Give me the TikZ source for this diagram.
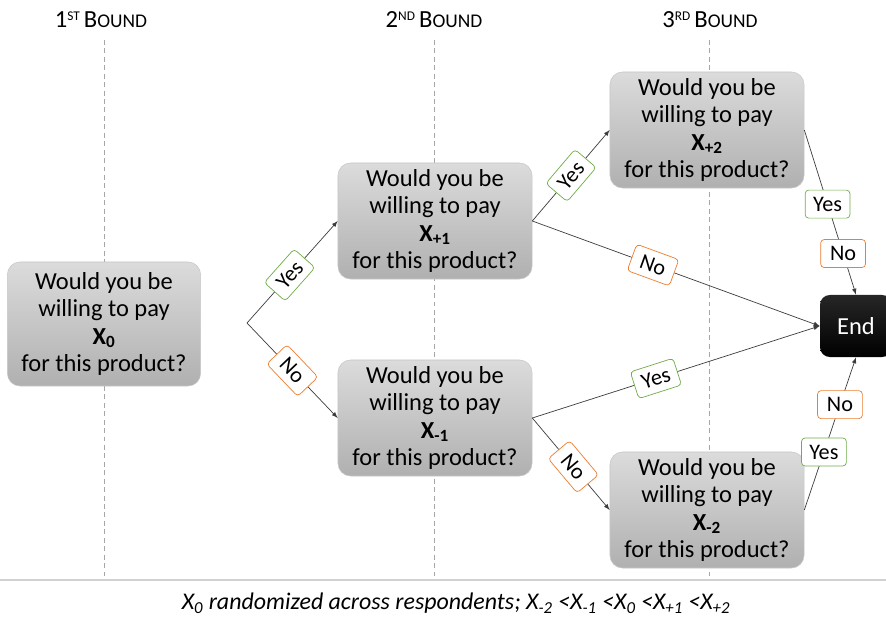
\documentclass[tikz,border=0pt]{standalone}
\usepackage{fontspec}
\setmainfont{Carlito}
\usepackage{xcolor}
\usepackage{tikz}
\usetikzlibrary{arrows,positioning,calc}
\definecolor{yesgreen}{RGB}{112,173,71}
\definecolor{noorange}{RGB}{237,125,49}
\definecolor{flowgray}{RGB}{60,60,60}
\tikzset{
	question/.style={rectangle, rounded corners=9pt, draw=black!22, top color=black!14, bottom color=black!31,
			minimum width=4.85cm, minimum height=2.9cm, align=center, inner sep=2pt,
			font=\fontsize{17.4}{19.6}\selectfont},
	endbox/.style={rectangle, rounded corners=7pt, top color=black!85, bottom color=black, text=white,
			minimum width=1.8cm, minimum height=1.55cm, font=\fontsize{17.4}{19}\selectfont},
	yeslbl/.style={rectangle, rounded corners=2.5pt, draw=yesgreen, fill=white, line width=0.5pt,
			minimum width=1.12cm, minimum height=0.7cm, inner sep=1pt, font=\fontsize{15.8}{16}\selectfont},
	nolbl/.style={yeslbl, draw=noorange},
	flow/.style={draw=flowgray, line width=0.5pt, -latex},
	bound/.style={draw=black!35, dash pattern=on 3.5pt off 2.5pt, line width=0.5pt},
	header/.style={font=\fontsize{17.5}{20}\selectfont}
}
\newcommand{\roundname}[2]{#1\raisebox{0.6ex}{\fontsize{9.5}{10}\selectfont #2}\,B{\fontsize{13.8}{16}\selectfont OUND}}
\newcommand{\wtp}[1]{Would you be\\willing to pay\\\textbf{X\textsubscript{#1}}\\for this product?}

\begin{document}
\begin{tikzpicture}[x=0.025cm, y=-0.025cm]
  \useasboundingbox (0,0) rectangle (886,623);

  \foreach \x in {104,434,709}
    \draw[bound] (\x,40) -- (\x,578);

  \node[header] (h1) at (101,20) {\roundname{1}{ST}};
  \node[header] (h2) at (434,20) {\roundname{2}{ND}};
  \node[header] (h3) at (710,20) {\roundname{3}{RD}};

  \node[question, minimum width=4.83cm, minimum height=3.1cm] (x0) at (104,324) {\wtp{0}};
  \node[question] (xp1) at (435,221) {\wtp{+1}};
  \node[question] (xm1) at (435,418) {\wtp{-1}};
  \node[question] (xp2) at (707,130) {\wtp{+2}};
  \node[question] (xm2) at (707,510) {\wtp{-2}};
  \node[endbox] (end) at (856,326) {End};
  \coordinate (split) at (247,323);

  \draw[flow] (split) -- node[yeslbl, sloped, pos=0.47] {Yes} (xp1.west);
  \draw[flow] (split) -- node[nolbl, sloped, pos=0.5] {No} (xm1.west);
  \draw[flow] (xp1.east) -- node[yeslbl, sloped, pos=0.5] {Yes} (xp2.west);
  \draw[flow] (xp1.east) -- node[nolbl, sloped, pos=0.42] {No} (end.west);
  \draw[flow] (xm1.east) -- node[yeslbl, sloped, pos=0.43] {Yes} (end.west);
  \draw[flow] (xm1.east) -- node[nolbl, sloped, pos=0.53] {No} (xm2.west);
  \draw[flow] (xp2.east) -- node[yeslbl, pos=0.45] {Yes} node[nolbl, pos=0.75] {No} (end.north);
  \draw[flow] (xm2.east) -- node[yeslbl, pos=0.38] {Yes} node[nolbl, pos=0.69] {No} (end.south);

  \draw[black!18, line width=1pt] (0,580) -- (886,580);
  \node[font=\fontsize{17}{19}\selectfont\itshape] (note) at (456,603)
    {X\textsubscript{0} randomized across respondents; X\textsubscript{-2} <X\textsubscript{-1} <X\textsubscript{0} <X\textsubscript{+1} <X\textsubscript{+2}};
\end{tikzpicture}
\end{document}
